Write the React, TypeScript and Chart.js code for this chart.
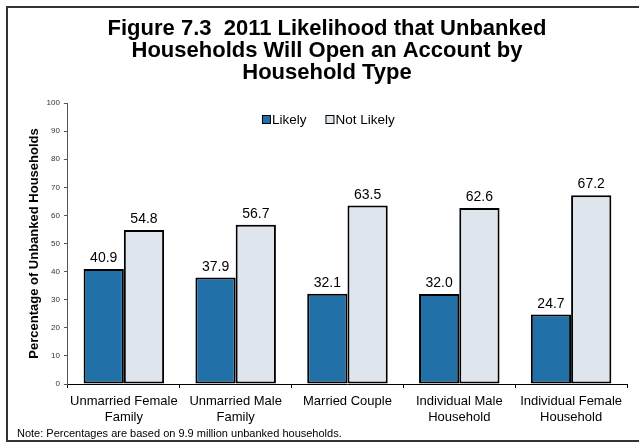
import React, { useEffect, useRef } from "react";
import { Chart, registerables } from "chart.js";

Chart.register(...registerables);

const categories: string[][] = [
  ["Unmarried Female", "Family"],
  ["Unmarried Male", "Family"],
  ["Married Couple"],
  ["Individual Male", "Household"],
  ["Individual Female", "Household"],
];
const likely: number[] = [40.9, 37.9, 32.1, 32.0, 24.7];
const notLikely: number[] = [54.8, 56.7, 63.5, 62.6, 67.2];
const titleLines: string[] = [
  "Figure 7.3  2011 Likelihood that Unbanked",
  "Households Will Open an Account by",
  "Household Type",
];
const yTitle = "Percentage of Unbanked Households";
const note = "Note: Percentages are based on 9.9 million unbanked households.";

const FONT = "'Liberation Sans', Arial, sans-serif";

const valueLabels = {
  id: "valueLabels",
  afterDatasetsDraw(chart: any) {
    const ctx = chart.ctx;
    ctx.save();
    ctx.font = `14px ${FONT}`;
    ctx.fillStyle = "#000";
    ctx.textAlign = "center";
    ctx.textBaseline = "alphabetic";
    chart.data.datasets.forEach((ds: any, i: number) => {
      const meta = chart.getDatasetMeta(i);
      meta.data.forEach((bar: any, j: number) => {
        ctx.fillText(ds.data[j].toFixed(1), bar.x, bar.y - 7);
      });
    });
    ctx.restore();
  },
};

const insideLegend = {
  id: "insideLegend",
  afterDraw(chart: any) {
    const ctx = chart.ctx;
    const area = chart.chartArea;
    ctx.save();
    ctx.font = `13.5px ${FONT}`;
    ctx.textBaseline = "middle";
    ctx.textAlign = "left";
    const y = area.top + 17;
    let x = area.left + 194;
    chart.data.datasets.forEach((ds: any) => {
      ctx.fillStyle = ds.backgroundColor;
      ctx.fillRect(x + 0.5, y - 4.5, 8, 8);
      ctx.strokeStyle = "#000";
      ctx.lineWidth = 1;
      ctx.strokeRect(x + 0.5, y - 4.5, 8, 8);
      ctx.fillStyle = "#000";
      ctx.fillText(ds.label, x + 10, y);
      x += 10 + ctx.measureText(ds.label).width + 19;
    });
    ctx.restore();
  },
};

export default function App() {
  const ref = useRef<HTMLCanvasElement>(null);
  useEffect(() => {
    if (!ref.current) return;
    const chart = new Chart(ref.current, {
      type: "bar",
      data: {
        labels: categories,
        datasets: [
          {
            label: "Likely",
            data: likely,
            backgroundColor: "#2170A8",
            borderColor: "#000",
            borderWidth: 2,
            borderSkipped: false,
          },
          {
            label: "Not Likely",
            data: notLikely,
            backgroundColor: "#DEE5ED",
            borderColor: "#000",
            borderWidth: 2,
            borderSkipped: false,
          },
        ],
      },
      options: {
        animation: false,
        responsive: false,
        maintainAspectRatio: false,
        layout: { padding: { left: 27, right: 12, top: 8, bottom: 12 } },
        datasets: { bar: { categoryPercentage: 0.72, barPercentage: 1.0 } },
        plugins: {
          title: {
            display: true,
            text: titleLines,
            color: "#000",
            font: { family: FONT, size: 22, weight: "bold", lineHeight: 1.0 },
            padding: { top: 10, bottom: 19 },
          },
          legend: { display: false },
          tooltip: { enabled: false },
        },
        scales: {
          x: {
            grid: {
              display: true,
              drawOnChartArea: false,
              drawTicks: true,
              tickLength: 4,
              color: "#000",
              offset: true,
            },
            border: { display: true, color: "#000", width: 1 },
            ticks: {
              color: "#000",
              font: { family: FONT, size: 13, lineHeight: 1.23 },
              padding: 5,
              maxRotation: 0,
              autoSkip: false,
            },
          },
          y: {
            min: 0,
            max: 100,
            grid: {
              display: true,
              drawOnChartArea: false,
              drawTicks: true,
              tickLength: 4,
              color: "#555",
            },
            border: { display: true, color: "#555", width: 1 },
            ticks: {
              stepSize: 10,
              color: "#333",
              font: { family: FONT, size: 8 },
              padding: 4,
            },
            title: {
              display: true,
              text: yTitle,
              color: "#000",
              font: { family: FONT, size: 13, weight: "bold" },
              padding: { top: 0, bottom: 0 },
            },
          },
        },
      },
      plugins: [valueLabels, insideLegend],
    });
    return () => chart.destroy();
  }, []);

  return (
    <div style={{ position: "absolute", left: 0, top: 0, width: 639, height: 442, background: "#fff", overflow: "hidden" }}>
      <div
        style={{
          position: "absolute",
          left: 6,
          top: 6,
          width: 640,
          height: 432,
          border: "2px solid #333",
          boxSizing: "content-box",
        }}
      />
      <canvas ref={ref} width={639} height={442} style={{ position: "absolute", left: 0, top: 0 }} />
      <div
        style={{
          position: "absolute",
          left: 17,
          top: 427,
          fontFamily: FONT,
          fontSize: 11,
          lineHeight: "13px",
          color: "#000",
          whiteSpace: "nowrap",
        }}
      >
        {note}
      </div>
    </div>
  );
}
